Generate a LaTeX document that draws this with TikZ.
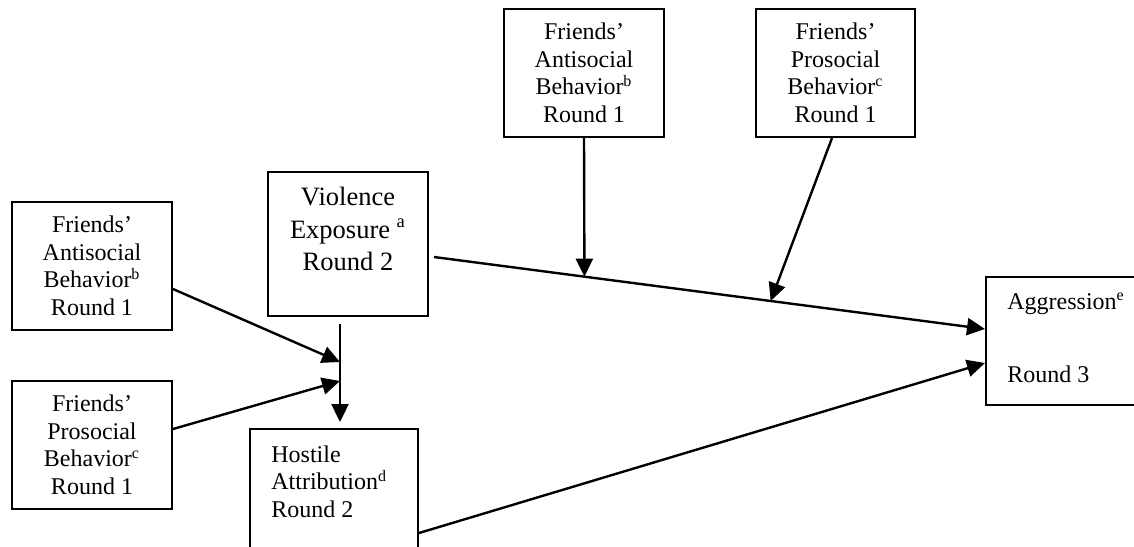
\documentclass[tikz,border=0pt]{standalone}
\usepackage{fontspec}
\setmainfont{Liberation Serif}
\usetikzlibrary{arrows.meta,calc}
\begin{document}
\begin{tikzpicture}[x=0.5pt,y=-0.5pt,
  box/.style={draw, line width=1pt, rectangle, inner sep=0pt, minimum width=80pt, minimum height=64pt, align=center, font=\fontsize{12}{13.75}\selectfont},
  arr/.style={line width=1.2pt, -{Triangle[length=9pt,width=8.5pt]}},
  lbl/.style={inner sep=0pt, font=\fontsize{12}{13.75}\selectfont}]
\useasboundingbox (0,0) rectangle (1134,546);
\clip (0,0) rectangle (1134,546);
\fill[white] (0,0) rectangle (1134,546);
% boxes
\node[box] (la) at (92,266) {Friends’\\Antisocial\\Behavior\textsuperscript{b}\\Round 1};
\node[box] (lp) at (92,445) {Friends’\\Prosocial\\Behavior\textsuperscript{c}\\Round 1};
\node[box] (ta) at (584,73) {Friends’\\Antisocial\\Behavior\textsuperscript{b}\\Round 1};
\node[box, minimum width=79.5pt] (tp) at (835.5,73) {Friends’\\Prosocial\\Behavior\textsuperscript{c}\\Round 1};
\node[box, minimum height=72pt] (viol) at (348,244) {};
\node[lbl, align=center, font=\fontsize{13.25}{16.25}\selectfont] (violt) at (348,229) {Violence\\Exposure \textsuperscript{a}\\Round 2};
\node[box, minimum width=84pt, minimum height=65.5pt] (hos) at (334,494.5) {};
\node[lbl, align=left, anchor=west] (host) at (271,481.5) {Hostile\\Attribution\textsuperscript{d}\\Round 2};
\node[box, minimum width=90pt] (agg) at (1076,341) {};
\node[lbl, anchor=base west] (aggt1) at (1007,309) {Aggression\textsuperscript{e}};
\node[lbl, anchor=base west] (aggt2) at (1007,382) {Round 3};
% coordinates
\coordinate (vs) at ([xshift=2.5pt,yshift=-6.5pt]viol.east);
\coordinate (ae) at ([yshift=6pt]agg.west);
\coordinate (ae2) at ([yshift=-11pt]agg.west);
\coordinate (m1) at ($(vs)!0.273!(ae)$);
\coordinate (m2) at ($(vs)!0.611!(ae)$);
\coordinate (vt) at (340,324);
\coordinate (j1) at (340,362);
\coordinate (j2) at (340,381);
% connectors
\draw[arr] (vs) -- (ae);
\draw[arr] (ta.south) -- (m1);
\draw[arr] ([xshift=-1.75pt]tp.south) -- (m2);
\draw[arr] ([yshift=-19.25pt]hos.east) -- (ae2);
\draw[arr, shorten >=3pt] (vt) -- (vt |- hos.north);
\draw[arr] ([yshift=-11.5pt]la.east) -- (j1);
\draw[arr] ([yshift=8pt]lp.east) -- (j2);
\end{tikzpicture}
\end{document}
